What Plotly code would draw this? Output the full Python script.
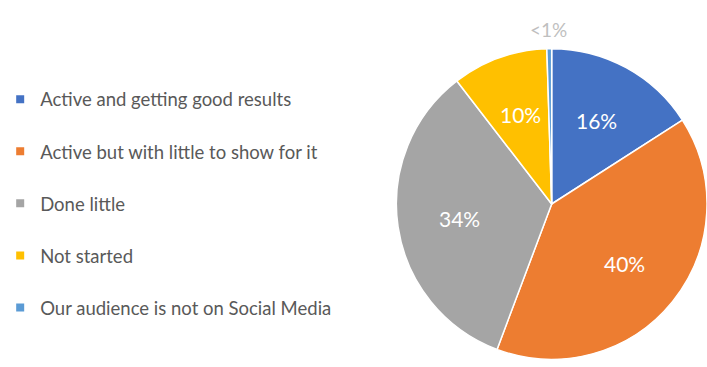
import math
import plotly.graph_objects as go

labels = ["Active and getting good results", "Active but with little to show for it",
          "Done little", "Not started", "Our audience is not on Social Media"]
values = [16, 40, 34, 10, 0.5]
text_labels = ["16%", "40%", "34%", "10%", "<1%"]
colors = ["#4472C4", "#ED7D31", "#A5A5A5", "#FFC000", "#5B9BD5"]

W, H = 707, 367
D = 316  # pie box size in px
dom_x = [(W - D) / W, 1.0]
dom_y = [(H - 204 - D / 2) / H, (H - 204 + D / 2) / H]

fig = go.Figure()
fig.add_trace(go.Pie(
    labels=labels, values=values, textinfo="none",
    sort=False, direction="clockwise", rotation=0,
    marker=dict(colors=colors, line=dict(color="white", width=1.5)),
    domain=dict(x=dom_x, y=dom_y),
    showlegend=False, hoverinfo="label+percent",
))
for lab, col in zip(labels, colors):
    fig.add_trace(go.Scatter(
        x=[None], y=[None], mode="markers", name=lab, legendgroup=lab,
        marker=dict(symbol="square", size=8, color=col),
    ))

# percentage labels placed along each slice's mid-angle
cx = (dom_x[0] + dom_x[1]) / 2
cy = (dom_y[0] + dom_y[1]) / 2
R = min((dom_x[1] - dom_x[0]) * W, (dom_y[1] - dom_y[0]) * H) / 2
total = sum(values)
cum = 0.0
annotations = []
for i, (v, t) in enumerate(zip(values, text_labels)):
    mid = (cum + v / 2) / total * 2 * math.pi
    cum += v
    outside = v / total < 0.02
    rr = R + 17 if outside else 0.6 * R
    annotations.append(dict(
        x=cx + rr * math.sin(mid) / W, y=cy + rr * math.cos(mid) / H,
        xref="paper", yref="paper", text=t, showarrow=False,
        xanchor="center", yanchor="middle",
        font=dict(family="Lato", size=19 if outside else 21,
                  color="#BFBFBF" if outside else "white"),
    ))

fig.update_layout(
    width=W, height=H, margin=dict(l=0, r=0, t=0, b=0),
    paper_bgcolor="white", plot_bgcolor="white",
    xaxis=dict(visible=False), yaxis=dict(visible=False),
    annotations=annotations,
    legend=dict(x=-0.017, y=0.78, xanchor="left", yanchor="top",
                font=dict(family="Lato", size=18.5, color="#595959"),
                tracegroupgap=25, bgcolor="rgba(0,0,0,0)"),
)
fig.write_html("out.html")
